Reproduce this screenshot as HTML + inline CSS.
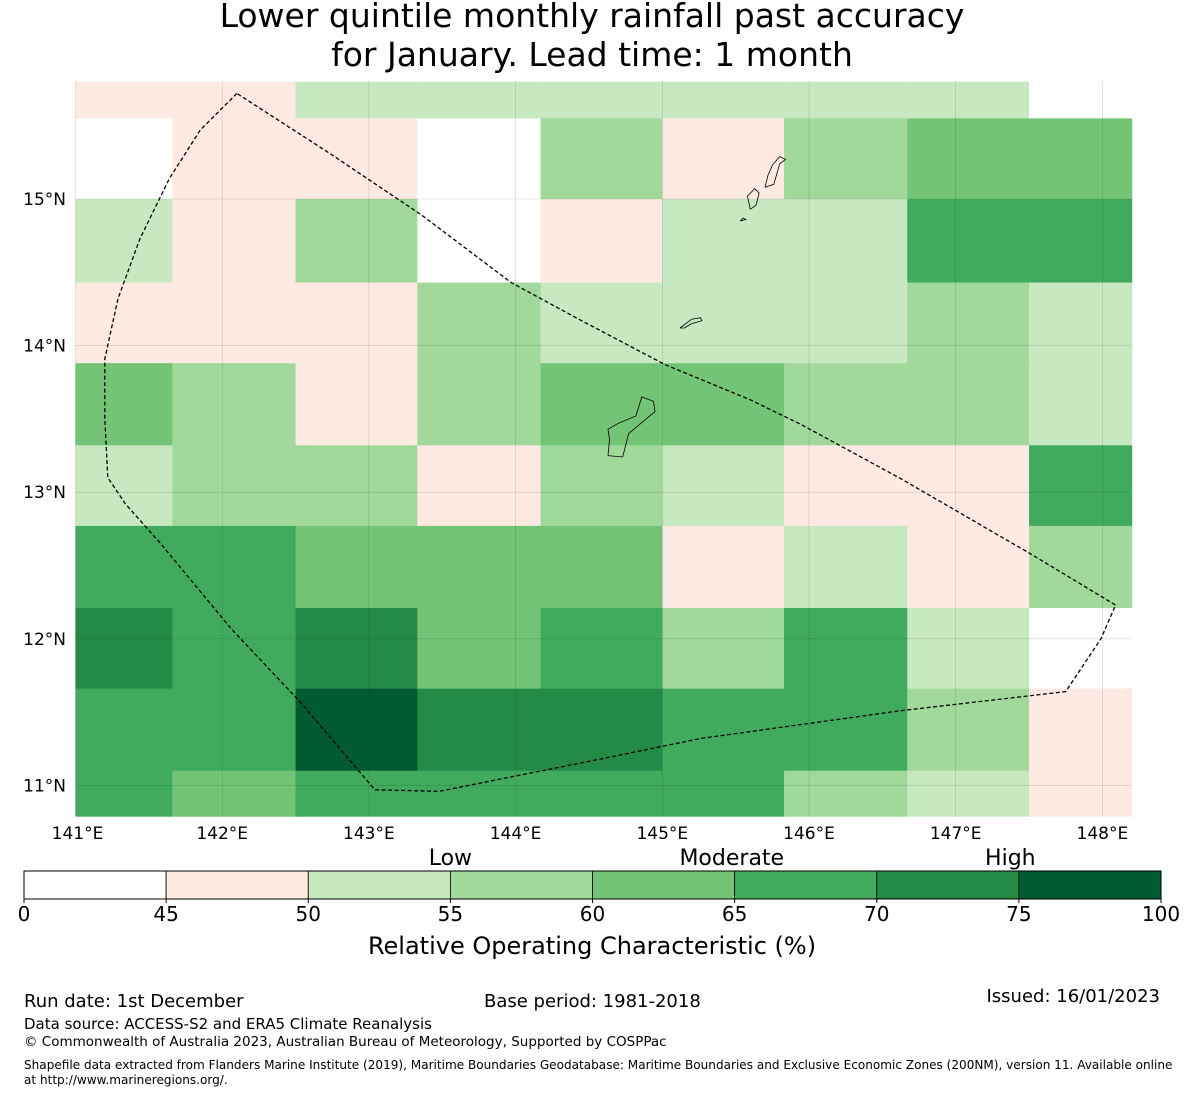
<!DOCTYPE html>
<html><head><meta charset="utf-8"><style>
body{margin:0;background:#fff;}
svg text{font-family:"DejaVu Sans","Liberation Sans",sans-serif;fill:#000;}
</style></head><body>
<svg id="chart" width="1185" height="1095" viewBox="0 0 1185 1095" xmlns="http://www.w3.org/2000/svg">
<text x="592" y="27" font-size="33" text-anchor="middle">Lower quintile monthly rainfall past accuracy</text>
<text x="592" y="66" font-size="33" text-anchor="middle">for January. Lead time: 1 month</text>
<g id="map"></g>
<g id="cbar"></g>
<text x="24" y="1007" font-size="18">Run date: 1st December</text>
<text x="484" y="1007" font-size="18">Base period: 1981-2018</text>
<text x="1160" y="1002" font-size="18" text-anchor="end">Issued: 16/01/2023</text>
<text x="24" y="1029" font-size="15">Data source: ACCESS-S2 and ERA5 Climate Reanalysis</text>
<text x="24" y="1046" font-size="13.5">© Commonwealth of Australia 2023, Australian Bureau of Meteorology, Supported by COSPPac</text>
<text x="24" y="1069" font-size="12.07">Shapefile data extracted from Flanders Marine Institute (2019), Maritime Boundaries Geodatabase: Maritime Boundaries and Exclusive Economic Zones (200NM), version 11. Available online</text>
<text x="24" y="1084" font-size="12.07">at http://www.marineregions.org/.</text>
</svg>
<script>
// Data
const lonEdges = [141.0, 141.66, 142.5, 143.33, 144.17, 145.0, 145.83, 146.67, 147.5, 148.2];
const latEdges = [15.8, 15.55, 15.0, 14.43, 13.88, 13.32, 12.77, 12.21, 11.66, 11.1, 10.79];
const rocValues = [
 [48,48,53,53,53,53,53,53,40],
 [40,48,48,40,58,48,58,63,63],
 [53,48,58,40,48,53,53,68,68],
 [48,48,48,58,53,53,53,58,53],
 [63,58,48,58,63,63,58,58,53],
 [53,58,58,48,58,53,48,48,68],
 [68,68,63,63,63,48,53,48,58],
 [72,68,72,63,68,58,68,53,40],
 [68,68,78,72,72,68,68,58,48],
 [68,63,68,68,68,68,58,53,48]
];
const lonTicks = [141,142,143,144,145,146,147,148];
const latTicks = [15,14,13,12,11];
const cbBounds = [0,45,50,55,60,65,70,75,100];
const cbColors = ["#ffffff","#feeae2","#c7e9c0","#a1d99b","#74c476","#41ab5d","#238b45","#005a32"];
const categoryLabels = ["Low","Moderate","High"];
const categoryPos = [55, 64.9, 74.7];
const eez = [[142.1,15.72],[141.85,15.47],[141.64,15.14],[141.44,14.73],[141.29,14.32],[141.2,13.91],[141.2,13.5],[141.22,13.1],[141.34,12.92],[141.58,12.65],[142.06,12.07],[142.54,11.56],[143.04,10.97],[143.48,10.96],[144.58,11.18],[145.26,11.32],[146.63,11.51],[147.75,11.64],[147.99,12.0],[148.09,12.23],[147.51,12.58],[146.63,13.09],[145.95,13.46],[145.6,13.63],[145.02,13.87],[144.45,14.17],[143.97,14.43],[143.36,14.89],[142.75,15.3],[142.1,15.72]];
const guam = [[144.63,13.25],[144.73,13.24],[144.77,13.4],[144.95,13.55],[144.94,13.62],[144.86,13.65],[144.82,13.52],[144.7,13.47],[144.63,13.43],[144.64,13.36],[144.63,13.25]];
const saipan = [[145.7,15.08],[145.76,15.1],[145.8,15.24],[145.84,15.27],[145.8,15.29],[145.75,15.23],[145.72,15.16],[145.7,15.08]];
const tinian = [[145.6,14.93],[145.64,14.96],[145.66,15.04],[145.63,15.07],[145.58,15.02],[145.6,14.93]];
const rota = [[145.12,14.12],[145.2,14.18],[145.26,14.19],[145.27,14.17],[145.2,14.15],[145.15,14.12],[145.12,14.12]];
const aguijan = [[145.53,14.85],[145.57,14.86],[145.55,14.87],[145.53,14.85]];

const X0=75.5, XS=146.7, Y0=199, YS=146.6;
const xS = lon => X0 + (lon-141)*XS;
const yS = lat => Y0 - (lat-15)*YS;
const NS="http://www.w3.org/2000/svg";
function colorFor(v){for(let i=cbBounds.length-2;i>=0;i--){if(v>=cbBounds[i])return cbColors[i];}return cbColors[0];}
function mk(tag,attrs,parent){const e=document.createElementNS(NS,tag);for(const k in attrs)e.setAttribute(k,attrs[k]);parent.appendChild(e);return e;}
const map=document.getElementById('map');
rocValues.forEach((row,r)=>row.forEach((v,c)=>{
  const x1=xS(lonEdges[c]),x2=xS(lonEdges[c+1]),y1=yS(latEdges[r]),y2=yS(latEdges[r+1]);
  const el=mk('rect',{x:x1,y:y1,width:x2-x1+0.5,height:y2-y1+0.5,fill:colorFor(v)},map);
  
  
}));
const mx1=xS(lonEdges[0]),mx2=xS(lonEdges[lonEdges.length-1]),my1=yS(latEdges[0]),my2=yS(latEdges[latEdges.length-1]);
lonTicks.forEach(t=>{
  const g=mk('line',{x1:xS(t),x2:xS(t),y1:my1,y2:my2,stroke:'#000','stroke-opacity':0.35,'stroke-width':0.6,'stroke-dasharray':'1,1'},map);
  
  
  const l=mk('text',{x:xS(t)+(t==141?2:0),y:839,'font-size':17,'text-anchor':'middle'},map);l.textContent=t+'°E';
  
  
});
latTicks.forEach(t=>{
  const g=mk('line',{x1:mx1,x2:mx2,y1:yS(t),y2:yS(t),stroke:'#000','stroke-opacity':0.35,'stroke-width':0.6,'stroke-dasharray':'1,1'},map);
  
  
  const l=mk('text',{x:66,y:yS(t)+6,'font-size':17,'text-anchor':'end'},map);l.textContent=t+'°N';
  
  
});
function poly(pts,name,extra){const p=mk('path',Object.assign({d:'M'+pts.map(q=>xS(q[0]).toFixed(1)+','+yS(q[1]).toFixed(1)).join('L')},extra),map);
  
  }
poly(eez,'eez-boundary',{fill:'none',stroke:'#000','stroke-width':1.3,'stroke-dasharray':'4,2.5'});
[guam,saipan,tinian,rota,aguijan].forEach((isl,i)=>poly(isl.concat([isl[0]]),['guam','saipan','tinian','rota','aguijan'][i]+'-island',{fill:'none',stroke:'#000','stroke-width':0.8}));

const cb=document.getElementById('cbar');
const CX0=24,CW=1137,CY=871,CH=28,n=cbColors.length;
const cx = i => CX0 + i*CW/n;
cbColors.forEach((c,i)=>{const r=mk('rect',{x:cx(i),y:CY,width:CW/n,height:CH,fill:c,stroke:'#000','stroke-width':0.8},cb);
  
  });
mk('rect',{x:CX0,y:CY,width:CW,height:CH,fill:'none',stroke:'#000','stroke-width':1},cb);
function bPos(v){for(let i=0;i<cbBounds.length-1;i++){if(v<=cbBounds[i+1])return cx(i)+(v-cbBounds[i])/(cbBounds[i+1]-cbBounds[i])*CW/n;}return CX0+CW;}
cbBounds.forEach((b,i)=>{mk('line',{x1:cx(i),x2:cx(i),y1:CY+CH,y2:CY+CH+4,stroke:'#000'},cb);
  const t=mk('text',{x:cx(i),y:921,'font-size':20,'text-anchor':'middle'},cb);t.textContent=b;
  
  });
categoryLabels.forEach((s,i)=>{const t=mk('text',{x:bPos(categoryPos[i]),y:865,'font-size':22,'text-anchor':'middle'},cb);t.textContent=s;
  
  });
const ct=mk('text',{x:592,y:954,'font-size':24,'text-anchor':'middle'},cb);ct.textContent='Relative Operating Characteristic (%)';


</script>
</body></html>
